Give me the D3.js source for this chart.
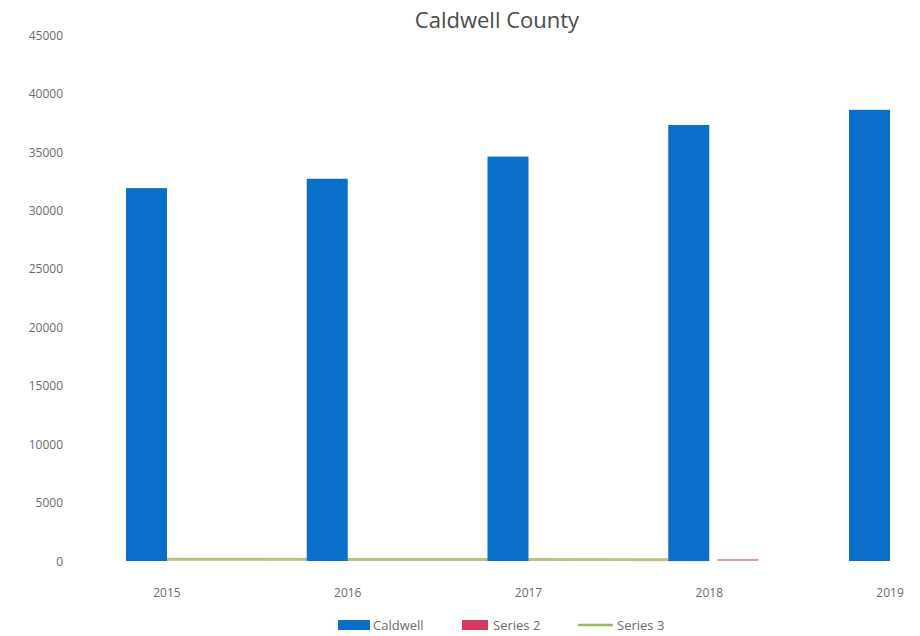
<!DOCTYPE html>
<html>
<head>
<meta charset="utf-8">
<script src="https://cdn.jsdelivr.net/npm/d3@7"></script>
<style>
  body { margin: 0; background: #fff; }
  svg { display: block; font-family: "Open Sans", "Liberation Sans", sans-serif; }
</style>
</head>
<body>
<svg id="chart" width="920" height="636"></svg>
<script>
// chart data
var years = ["2015", "2016", "2017", "2018", "2019"];
var caldwell = [31900, 32700, 34600, 37300, 38600];
var series2 = [0, 0, 0, 180, 0];
var series3 = [150, 130, 120, 110, null];
var yTicks = [0, 5000, 10000, 15000, 20000, 25000, 30000, 35000, 40000, 45000];

var svg = d3.select("#chart");

var x = d3.scaleBand().domain(years).range([76.6, 980.4]).padding(0);
var y = d3.scaleLinear().domain([0, 45000]).range([561, 35]);
var sub = d3.scaleBand().domain(["Caldwell", "Series 2"])
    .range([-41, 41]).padding(0);

function center(d) { return x(d) + x.bandwidth() / 2; }

// y axis labels only, no line or gridlines show in the scan
var yAxis = svg.append("g")
    .attr("transform", "translate(63,0)")
    .call(d3.axisLeft(y).tickValues(yTicks).tickFormat(d3.format("d"))
      .tickSize(0).tickPadding(0));
yAxis.select(".domain").remove();
yAxis.selectAll("text")
    .attr("dy", "0.35em")
    .style("font-size", "12px")
    .style("fill", "#6b6b6b")
    .style("font-family", "'Open Sans', sans-serif");

// x axis labels
var xAxis = svg.append("g")
    .attr("transform", "translate(0,588)")
    .call(d3.axisBottom(x).tickSize(0).tickPadding(0));
xAxis.select(".domain").remove();
xAxis.selectAll("text")
    .style("font-size", "12px")
    .style("fill", "#6b6b6b")
    .style("font-family", "'Open Sans', sans-serif");

// series 3 line sits under the bars
var line = d3.line()
    .defined(function(d) { return d != null; })
    .x(function(d, i) { return center(years[i]); })
    .y(function(d) { return y(d); });

svg.append("path")
    .datum(series3)
    .attr("d", line)
    .attr("fill", "none")
    .attr("stroke", "#b9c37e")
    .attr("stroke-width", 3);

svg.append("g").selectAll("rect")
    .data(caldwell)
    .enter().append("rect")
    .attr("x", function(d, i) { return center(years[i]) + sub("Caldwell"); })
    .attr("y", function(d) { return y(d); })
    .attr("width", sub.bandwidth())
    .attr("height", function(d) { return y(0) - y(d); })
    .attr("fill", "#0a6fc9");

svg.append("g").selectAll("rect")
    .data(series2)
    .enter().append("rect")
    .attr("x", function(d, i) { return center(years[i]) + sub("Series 2") + 8; })
    .attr("y", function(d) { return y(d); })
    .attr("width", sub.bandwidth())
    .attr("height", function(d) { return Math.max(0, y(0) - y(d)); })
    .attr("fill", "#e39aa8");

// title
svg.append("text")
    .attr("x", 497)
    .attr("y", 28)
    .attr("text-anchor", "middle")
    .style("font-size", "22px")
    .style("fill", "#474c4c")
    .text("Caldwell County");

// legend
var legend = svg.append("g").attr("transform", "translate(0,625)")
    .style("font-size", "13px").style("fill", "#6b6b6b");

legend.append("rect").attr("x", 338).attr("y", -5).attr("width", 32).attr("height", 10).attr("fill", "#0a6fc9");
legend.append("text").attr("x", 373).attr("dy", "0.35em").text("Caldwell");
legend.append("rect").attr("x", 462).attr("y", -5).attr("width", 26).attr("height", 10).attr("fill", "#d63a63");
legend.append("text").attr("x", 493).attr("dy", "0.35em").text("Series 2");
legend.append("line").attr("x1", 578).attr("x2", 613).attr("y1", 0).attr("y2", 0)
    .attr("stroke", "#9bbb59").attr("stroke-width", 2.5);
legend.append("text").attr("x", 617).attr("dy", "0.35em").text("Series 3");
</script>
</body>
</html>
